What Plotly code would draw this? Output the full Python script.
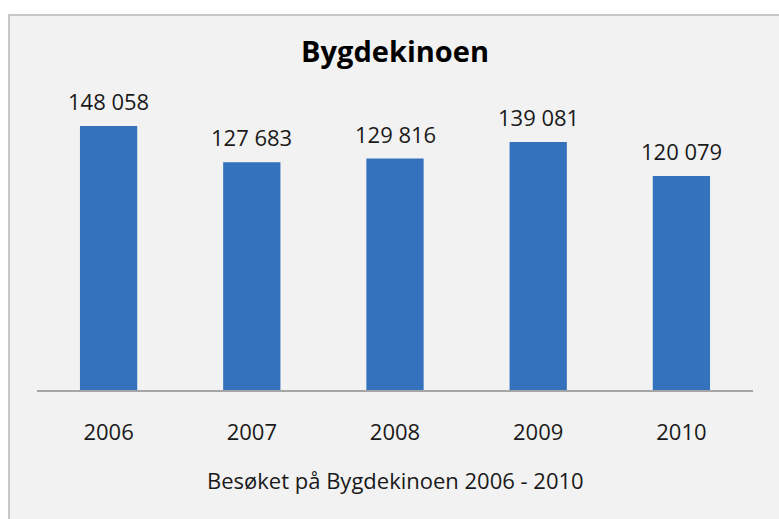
import plotly.graph_objects as go

years = ["2006", "2007", "2008", "2009", "2010"]
visitors = [148058, 127683, 129816, 139081, 120079]
value_labels = ["148 058", "127 683", "129 816", "139 081", "120 079"]

title_text = "Bygdekinoen"
axis_title_text = "Besøket på Bygdekinoen 2006 - 2010"

FONT = "Open Sans, Noto Sans, sans-serif"

fig = go.Figure()
fig.add_trace(go.Bar(
    x=years,
    y=visitors,
    marker=dict(color="#3572bd", line=dict(width=0)),
    hoverinfo="x+y",
))

annotations = []
for i, (v, lab) in enumerate(zip(visitors, value_labels)):
    annotations.append(dict(
        x=i, y=v, xref="x", yref="y", text=lab, showarrow=False,
        yanchor="middle", yshift=25,
        font=dict(family=FONT, size=22, color="#1a1a1a"),
    ))
annotations.append(dict(
    x=0.5, y=-0.31, xref="paper", yref="paper", text=axis_title_text,
    showarrow=False, yanchor="middle", xanchor="center",
    font=dict(family=FONT, size=22, color="#1a1a1a"),
))

fig.update_layout(
    width=779, height=519,
    margin=dict(l=37, r=26, t=100, b=129),
    paper_bgcolor="white",
    plot_bgcolor="rgba(0,0,0,0)",
    bargap=0.6,
    showlegend=False,
    title=dict(text="<b>" + title_text + "</b>", x=0.5, xref="paper",
               y=1 - 52 / 519, yref="container", yanchor="middle", xanchor="center",
               font=dict(family=FONT, size=29, color="#000000")),
    annotations=annotations,
    shapes=[dict(type="rect", xref="paper", yref="paper",
                 x0=(9 - 37) / 716, x1=1.2, y0=-0.6, y1=1 + 85 / 290,
                 fillcolor="#f2f2f2", line=dict(color="#b8b8b8", width=1.5),
                 layer="below")],
    xaxis=dict(type="category", range=[-0.5, len(years) - 0.5],
               showline=True, linecolor="#a6a6a6", linewidth=1.5,
               ticks="", showgrid=False, zeroline=False,
               ticklabelstandoff=22,
               tickfont=dict(family=FONT, size=22, color="#1a1a1a")),
    yaxis=dict(visible=False, range=[0, 290 / 0.001783], showgrid=False, zeroline=False),
)

fig.write_html("out.html", config={"displayModeBar": False},
               post_script="document.body.style.margin='0';document.body.style.overflow='hidden';")
